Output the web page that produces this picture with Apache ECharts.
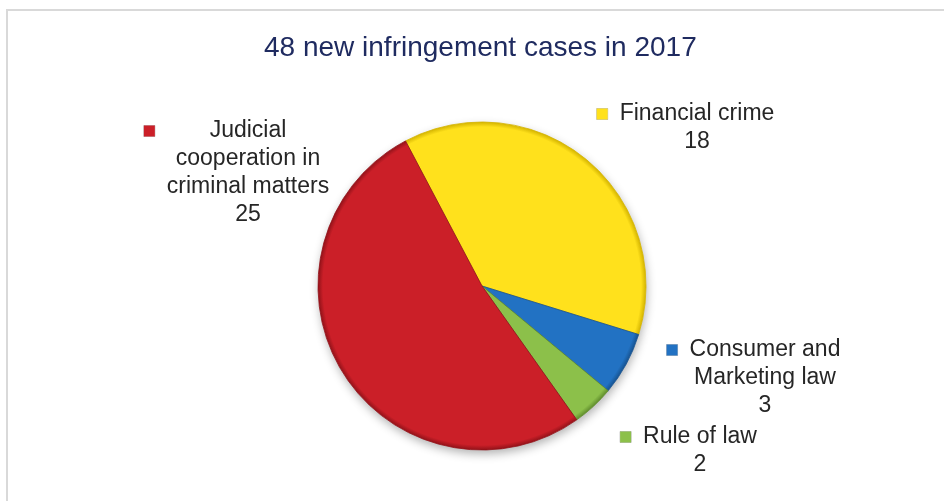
<!DOCTYPE html>
<html>
<head>
<meta charset="utf-8">
<script src="https://cdn.jsdelivr.net/npm/echarts@6/dist/echarts.min.js"></script>
<style>
  html, body { margin: 0; padding: 0; background: #ffffff; }
  #chart { width: 944px; height: 501px; }
</style>
</head>
<body>
<div id="chart"></div>
<script>
// Infringement cases opened in 2017, by policy area
const categories = ['Financial crime', 'Consumer and\nMarketing law', 'Rule of law', 'Judicial\ncooperation in\ncriminal matters'];
const caseCounts = [18, 3, 2, 25];
const chartTitle = '48 new infringement cases in 2017';

// Slice fills and their darker rim tones
const sliceColors = ['#FFE11C', '#2272C3', '#8CC04A', '#CB1F28'];
const sliceRims = ['#D4B400', '#16528F', '#5F8C2C', '#921219'];

// Pie geometry
const pieCenter = [482, 286];
const pieRadius = 164;

// Label blocks: horizontal centre and top edge of each
const labelAnchors = [[697, 100], [765, 336], [700, 423], [248, 117]];

const chart = echarts.init(document.getElementById('chart'), null, { renderer: 'canvas' });

function rimGradient(base, rim) {
  return {
    type: 'radial', x: pieCenter[0], y: pieCenter[1], r: pieRadius, global: true,
    colorStops: [
      { offset: 0, color: base },
      { offset: 0.9, color: base },
      { offset: 0.97, color: base },
      { offset: 1, color: rim }
    ]
  };
}

function labelText(p) {
  const lines = p.name.split('\n').concat(String(p.value));
  return lines.map(function (line, i) {
    return i === 0 ? '{m|}{g|}{t|' + line + '}{s|}' : '{p|}{t|' + line + '}{s|}';
  }).join('\n');
}

function richFor(color) {
  return {
    m: { width: 11, height: 11, backgroundColor: color, borderColor: 'rgba(0,0,0,0.25)', borderWidth: 0.5, align: 'left' },
    g: { width: 12, height: 11, align: 'left' },
    p: { width: 23, height: 11, align: 'left' },
    s: { width: 23, height: 11, align: 'right' },
    t: { fontSize: 23, lineHeight: 28, color: '#262626', fontFamily: 'Liberation Sans, Arial, sans-serif', align: 'center' }
  };
}

const pieData = categories.map(function (name, i) {
  return {
    name: name,
    value: caseCounts[i],
    itemStyle: {
      color: rimGradient(sliceColors[i], sliceRims[i]),
      borderColor: sliceRims[i],
      borderWidth: 0.8
    },
    label: { rich: richFor(sliceColors[i]) }
  };
});

const shadowData = caseCounts.map(function (v) { return { value: v }; });

chart.setOption({
  animation: false,
  backgroundColor: '#ffffff',
  title: {
    text: chartTitle,
    left: 259,
    top: 29,
    textStyle: {
      color: '#1F2B60',
      fontSize: 28,
      fontWeight: 'normal',
      fontFamily: 'Liberation Sans, Arial, sans-serif'
    }
  },
  graphic: [
    { type: 'line', shape: { x1: 6, y1: 10, x2: 944, y2: 10 }, style: { stroke: '#D9D9D9', lineWidth: 2 }, silent: true },
    { type: 'line', shape: { x1: 7, y1: 9, x2: 7, y2: 501 }, style: { stroke: '#D9D9D9', lineWidth: 2 }, silent: true }
  ],
  series: [
    {
      type: 'pie',
      z: 1,
      silent: true,
      center: pieCenter,
      radius: pieRadius,
      startAngle: 117.8,
      clockwise: true,
      label: { show: false },
      labelLine: { show: false },
      itemStyle: {
        color: '#ffffff',
        shadowBlur: 10,
        shadowOffsetX: 1,
        shadowOffsetY: 4,
        shadowColor: 'rgba(0,0,0,0.3)'
      },
      data: shadowData
    },
    {
      type: 'pie',
      z: 2,
      center: pieCenter,
      radius: pieRadius,
      startAngle: 117.8,
      clockwise: true,
      avoidLabelOverlap: false,
      emphasis: { disabled: true },
      label: {
        show: true,
        position: 'outside',
        formatter: labelText
      },
      labelLine: { show: false },
      labelLayout: function (params) {
        const a = labelAnchors[params.dataIndex];
        return { x: a[0], y: a[1], align: 'center', verticalAlign: 'top' };
      },
      data: pieData
    }
  ]
});
</script>
</body>
</html>
